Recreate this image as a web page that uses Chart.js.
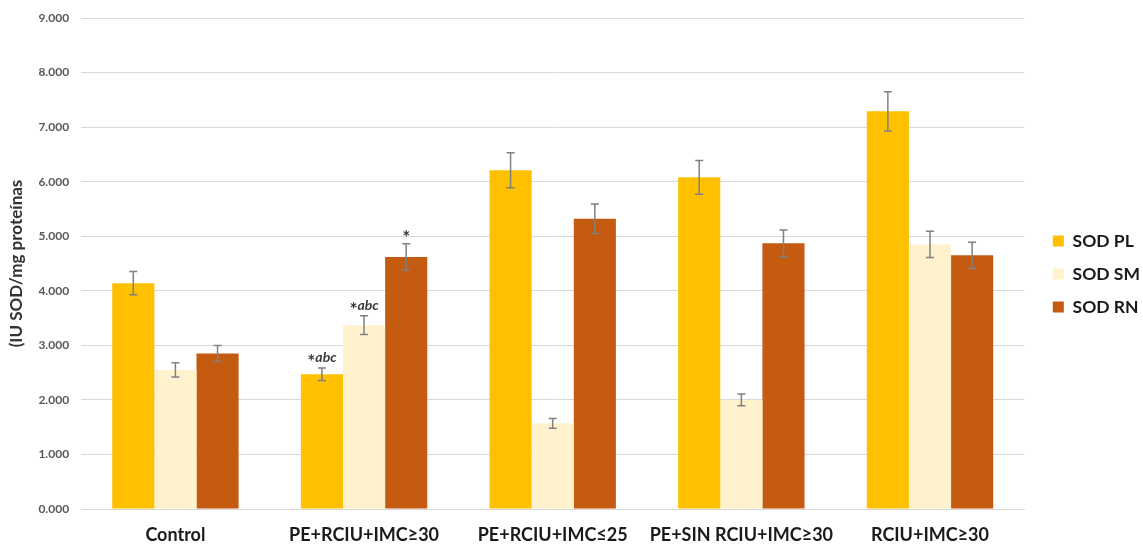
<!DOCTYPE html>
<html>
<head>
<meta charset="utf-8">
<script src="https://cdn.jsdelivr.net/npm/chart.js@4/dist/chart.umd.min.js"></script>
<style>
  html, body { margin: 0; padding: 0; background: #ffffff; }
  #wrap { width: 1143px; height: 548px; position: relative; }
</style>
</head>
<body>
<div id="wrap"><canvas id="c" width="1143" height="548"></canvas></div>
<script>
// Groups and measured SOD activity (IU SOD / mg proteínas)
const categories = ["Control", "PE+RCIU+IMC\u226530", "PE+RCIU+IMC\u226425", "PE+SIN RCIU+IMC\u226530", "RCIU+IMC\u226530"];
const seriesNames = ["SOD PL", "SOD SM", "SOD RN"];

const sodPL = [4.14, 2.47, 6.21, 6.08, 7.29];
const sodSM = [2.55, 3.37, 1.57, 2.00, 4.85];
const sodRN = [2.85, 4.62, 5.32, 4.87, 4.65];

// Error (± half-range) for each bar
const errPL = [0.215, 0.115, 0.32, 0.31, 0.36];
const errSM = [0.13, 0.17, 0.09, 0.107, 0.24];
const errRN = [0.145, 0.24, 0.27, 0.245, 0.24];

// Significance marks above bars
const markPL = ["", "*abc", "", "", ""];
const markSM = ["", "*abc", "", "", ""];
const markRN = ["", "*", "", "", ""];

const yTicks = [0, 1, 2, 3, 4, 5, 6, 7, 8, 9];

const colors = ["#FFC000", "#FFF2CC", "#C55A11"];
const values = [sodPL, sodSM, sodRN];
const errors = [errPL, errSM, errRN];
const marks = [markPL, markSM, markRN];

const FONT = "Lato, 'Open Sans', sans-serif";

// Error bars and significance marks, placed with the chart's own scales
const errorBarPlugin = {
  id: "errorBars",
  afterDatasetsDraw(chart) {
    const ctx = chart.ctx;
    const y = chart.scales.y;
    chart.data.datasets.forEach((ds, di) => {
      const meta = chart.getDatasetMeta(di);
      meta.data.forEach((bar, i) => {
        const v = ds.data[i];
        const e = errors[di][i];
        const yTop = y.getPixelForValue(v + e);
        const yBot = y.getPixelForValue(v - e);
        const x = bar.x;
        ctx.save();
        ctx.strokeStyle = "#808080";
        ctx.lineWidth = 1.5;
        ctx.beginPath();
        ctx.moveTo(x, yTop); ctx.lineTo(x, yBot);
        ctx.moveTo(x - 4, yTop); ctx.lineTo(x + 4, yTop);
        ctx.moveTo(x - 4, yBot); ctx.lineTo(x + 4, yBot);
        ctx.stroke();

        const m = marks[di][i];
        if (m) {
          const star = "*";
          const rest = m.slice(1);
          ctx.fillStyle = "#3a3a3a";
          ctx.textBaseline = "alphabetic";
          ctx.font = "bold 19px " + FONT;
          const wStar = ctx.measureText(star).width;
          ctx.font = "italic bold 14px " + FONT;
          const wRest = ctx.measureText(rest).width;
          const sx = x - (wStar + wRest) / 2;
          const by = yTop - 6;
          ctx.textAlign = "left";
          ctx.font = "bold 19px " + FONT;
          ctx.fillText(star, sx, by + 6);
          ctx.font = "italic bold 14px " + FONT;
          ctx.fillText(rest, sx + wStar, by);
        }
        ctx.restore();
      });
    });
  }
};

// Leaves a little more air between the plot and the legend
const legendGap = {
  id: "legendGap",
  afterLayout(chart) {
    const lg = chart.legend;
    if (lg) { lg.left += 13; lg.right += 13; }
  }
};

new Chart(document.getElementById("c"), {
  type: "bar",
  data: {
    labels: categories,
    datasets: seriesNames.map((name, k) => ({
      label: name,
      data: values[k],
      backgroundColor: colors[k],
      borderWidth: 0,
      categoryPercentage: 0.67,
      barPercentage: 1.0
    }))
  },
  options: {
    responsive: false,
    animation: false,
    layout: { padding: { top: 0, right: 6, left: 6, bottom: 0 } },
    plugins: {
      legend: {
        position: "right",
        align: "center",
        labels: {
          boxWidth: 11,
          boxHeight: 11,
          padding: 15.5,
          color: "#1a1a1a",
          font: { family: FONT, size: 17.5, weight: "bold" }
        }
      },
      tooltip: { enabled: false }
    },
    scales: {
      x: {
        grid: { display: false },
        border: { display: true, color: "#d9d9d9", width: 1 },
        afterFit(scale) { scale.height = 39; },
        ticks: {
          color: "#1a1a1a",
          padding: 7,
          maxRotation: 0,
          autoSkip: false,
          font: { family: FONT, size: 18, weight: "bold" }
        }
      },
      y: {
        min: 0,
        max: 9,
        afterBuildTicks(axis) { axis.ticks = yTicks.map(v => ({ value: v })); },
        grid: { color: "#d9d9d9", lineWidth: 1, drawTicks: false },
        border: { display: false },
        ticks: {
          color: "#595959",
          padding: 12,
          font: { family: FONT, size: 12, weight: "bold", lineHeight: 1 },
          callback: v => v.toFixed(3)
        },
        title: {
          display: true,
          text: "(IU SOD/mg prote\u00ednas",
          color: "#333333",
          padding: { top: 0, bottom: 0 },
          font: { family: FONT, size: 17, weight: "bold" }
        }
      }
    }
  },
  plugins: [errorBarPlugin, legendGap]
});
</script>
</body>
</html>
